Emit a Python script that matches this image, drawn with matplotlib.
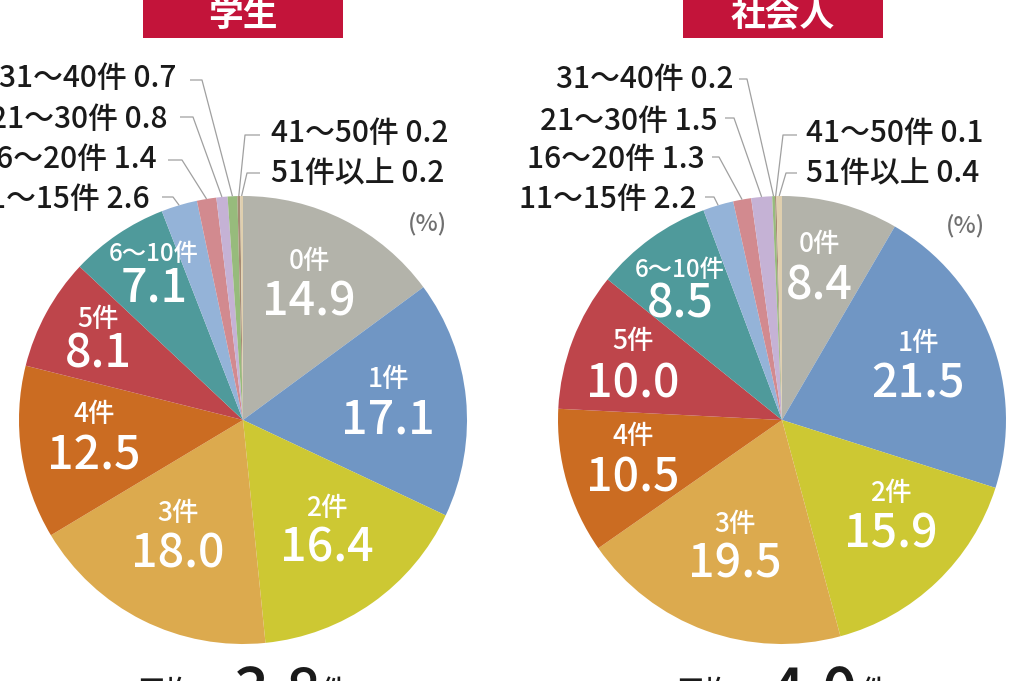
import matplotlib
matplotlib.use('Agg')
import matplotlib.pyplot as plt
from matplotlib.patches import Rectangle
import numpy as np

plt.rcParams['font.family'] = ['Noto Sans CJK JP', 'DejaVu Sans']

# ---------------- data ----------------
categories = ['0件', '1件', '2件', '3件', '4件', '5件', '6～10件',
              '11～15件', '16～20件', '21～30件', '31～40件', '41～50件', '51件以上']
student = [14.9, 17.1, 16.4, 18.0, 12.5, 8.1, 7.1, 2.6, 1.4, 0.8, 0.7, 0.2, 0.2]
worker = [8.4, 21.5, 15.9, 19.5, 10.5, 10.0, 8.5, 2.2, 1.3, 1.5, 0.2, 0.1, 0.4]
titles = ['学生', '社会人']
averages = ['3.8', '4.0']
unit_label = '(%)'

colors = ['#b3b3aa', '#7096c4', '#cdc833', '#dcaa4e', '#cb6c22', '#be454b',
          '#4f9a9b', '#94b3d8', '#d28a8f', '#c5b2d5', '#97bb7c', '#a58a74', '#dfcfae']

W, H = 1024, 681


def Y(y):
    return H - y


fig = plt.figure(figsize=(W / 100, H / 100), dpi=100)
ax = fig.add_axes([0, 0, 1, 1])

# ---------------- layout ----------------
charts = [
    dict(values=student, cx=243, cy=420, r=224,
         box=(143, 343),
         inner=[  # (x, cat baseline, value baseline)
             (309, 269, 315), (388, 387, 433), (327, 516, 562), (178, 521, 568),
             (94, 422, 470), (98, 327, 368), (154, 261, 302)],
         outer_left=[  # index, text right x, baseline, start, corner
             (10, 176, 87, (190, 80), (202, 80)),
             (9, 168, 128, (180, 117), (193, 117)),
             (8, 157, 168, (168, 160), (182, 160)),
             (7, 150, 208, (162, 197), (173, 197))],
         outer_right=[
             (11, 271, 142, (260, 135), (245, 135)),
             (12, 271, 182, (260, 173), (247, 173))],
         pct=(447, 230),
         avg=(138, 233, 320)),
    dict(values=worker, cx=782, cy=420, r=224,
         box=(683, 883),
         inner=[
             (819, 252, 300), (918, 351, 398), (891, 501, 548), (735, 532, 578),
             (633, 444, 492), (633, 349, 397), (680, 277, 317)],
         outer_left=[
             (10, 733, 88, (739, 79), (747, 79)),
             (9, 718, 130, (725, 118), (734, 118)),
             (8, 705, 168, (712, 157), (719, 157)),
             (7, 697, 208, (705, 197), (714, 197))],
         outer_right=[
             (11, 806, 142, (797, 135), (783, 135)),
             (12, 806, 182, (797, 173), (786, 173))],
         pct=(985, 232),
         avg=(677, 770, 860)),
]

line_col = '#a0a0a0'
txt_col = '#1a1a1a'
fw = 'medium'

for k, c in enumerate(charts):
    vals = c['values']
    wedges, _ = ax.pie(vals, colors=colors, startangle=90, counterclock=False,
                       center=(c['cx'], Y(c['cy'])), radius=c['r'],
                       wedgeprops=dict(linewidth=0))

    # inner labels
    for i, (x, yb1, yb2) in enumerate(c['inner']):
        ax.text(x, Y(yb1), categories[i], color='white', fontsize=19 if i < 6 else 17.5,
                ha='center', va='baseline', fontweight=fw)
        ax.text(x, Y(yb2), f'{vals[i]:.1f}', color='white', fontsize=33.5,
                ha='center', va='baseline', fontweight=fw)

    # outer labels with leader lines
    def leader(i, start, corner):
        w = wedges[i]
        th = np.deg2rad((w.theta1 + w.theta2) / 2)
        ex = c['cx'] + c['r'] * np.cos(th)
        ey = Y(c['cy']) + c['r'] * np.sin(th)
        ax.plot([start[0], corner[0], ex], [Y(start[1]), Y(corner[1]), ey],
                color=line_col, lw=0.9, solid_capstyle='butt')

    for i, xr, yb, start, corner in c['outer_left']:
        ax.text(xr, Y(yb), f'{categories[i]} {vals[i]:.1f}', color=txt_col,
                fontsize=21.5, ha='right', va='baseline', fontweight=fw)
        leader(i, start, corner)
    for i, xl, yb, start, corner in c['outer_right']:
        ax.text(xl, Y(yb), f'{categories[i]} {vals[i]:.1f}', color=txt_col,
                fontsize=21.5, ha='left', va='baseline', fontweight=fw)
        leader(i, start, corner)

    # unit
    ax.text(c['pct'][0], Y(c['pct'][1]), unit_label, color='#707070', fontsize=17,
            ha='right', va='baseline', fontweight=fw)

    # title box
    x0, x1 = c['box']
    ax.add_patch(Rectangle((x0, Y(38)), x1 - x0, 60, facecolor='#c3143a',
                           edgecolor='none', zorder=3))
    ax.text((x0 + x1) / 2, Y(26), titles[k], color='white', fontsize=25,
            fontweight='bold', ha='center', va='baseline', zorder=4)

    # average (cut off at bottom)
    ax_, num_x, unit_x = c['avg']
    ax.text(ax_, Y(700), '平均', color=txt_col, fontsize=20, ha='left', va='baseline',
            fontweight=fw)
    ax.text(num_x, Y(713), averages[k], color=txt_col, fontsize=44,
            ha='left', va='baseline', fontweight=fw)
    ax.text(unit_x, Y(700), '件', color=txt_col, fontsize=20, ha='left', va='baseline',
            fontweight=fw)

ax.set_xlim(0, W)
ax.set_ylim(0, H)
ax.set_aspect('auto')
ax.axis('off')

fig.savefig('out.png', dpi=100, facecolor='white')
